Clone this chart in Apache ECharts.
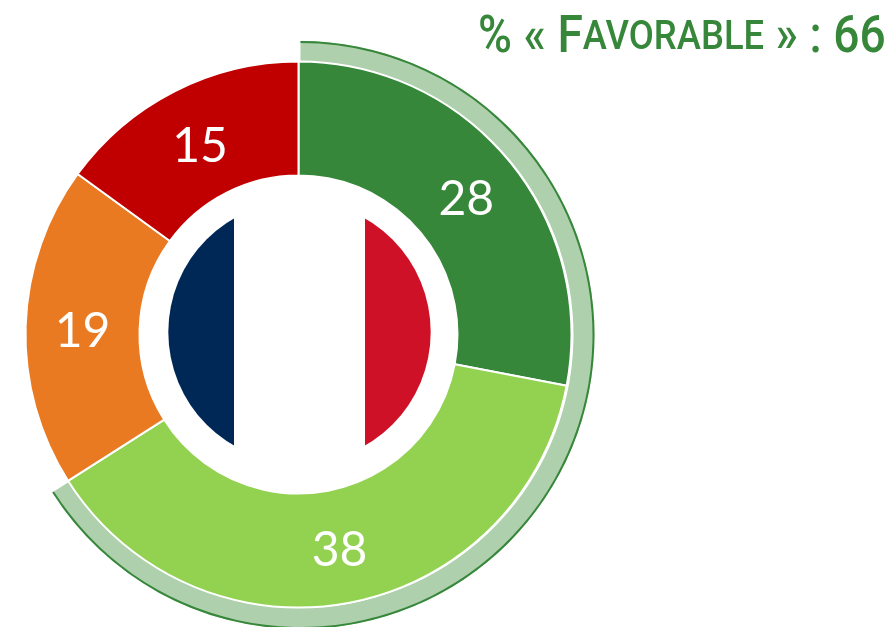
<!DOCTYPE html>
<html>
<head>
<meta charset="utf-8">
<title>% « Favorable » : 66</title>
<style>
  html, body { margin: 0; padding: 0; background: #fff; }
  #main { width: 895px; height: 627px; }
</style>
</head>
<body>
<div id="main"></div>
<script src="https://cdn.jsdelivr.net/npm/echarts@6/dist/echarts.min.js"></script>
<script>
// valeurs
const categories = ['Très favorable', 'Plutôt favorable', 'Plutôt défavorable', 'Très défavorable']
const values = [28, 38, 19, 15]
const colors = ['#36873a', '#92d250', '#e97a22', '#c00000']
const favorable = [66, 34]

const center = [298.5, 334.5]
const ringCenter = [300.5, 335]
const green = '#36873a'
// petits décalages des étiquettes pour coller à l'original
const labelOffsets = [[-1, 5], [0, 1], [3, 4], [1, 7]]

const chart = echarts.init(document.getElementById('main'), null, { renderer: 'canvas' })

chart.setOption({
  animation: false,
  graphic: [
    // titre en petites capitales, resserré pour imiter la police d'origine
    {
      type: 'text',
      x: 478,
      y: 9,
      scaleX: 0.888,
      silent: true,
      style: {
        text: '{a|% « F}{c|AVORABLE}{a| » : 66}',
        rich: {
          a: { fontFamily: 'Roboto', fontWeight: 500, fontSize: 52, fill: green, lineHeight: 60 },
          c: { fontFamily: 'Roboto', fontWeight: 500, fontSize: 41, fill: green, lineHeight: 60 }
        }
      }
    },
    // drapeau au centre : deux demi-disques et une bande blanche par-dessus
    {
      type: 'sector',
      silent: true,
      z: 10,
      shape: { cx: 299.5, cy: 332, r0: 0, r: 131.2, startAngle: Math.PI / 2, endAngle: Math.PI * 1.5 },
      style: { fill: '#002856' }
    },
    {
      type: 'sector',
      silent: true,
      z: 10,
      shape: { cx: 299.5, cy: 332, r0: 0, r: 131.2, startAngle: -Math.PI / 2, endAngle: Math.PI / 2 },
      style: { fill: '#ce1126' }
    },
    {
      type: 'rect',
      silent: true,
      z: 11,
      shape: { x: 234, y: 200, width: 131, height: 264 },
      style: { fill: '#fff' }
    }
  ],
  series: [
    // anneau du % favorable
    {
      type: 'pie',
      silent: true,
      center: ringCenter,
      radius: [273, 294],
      startAngle: 90,
      clockwise: true,
      label: { show: false },
      labelLine: { show: false },
      data: favorable.map((v, i) => ({
        value: v,
        itemStyle: { color: i === 0 ? '#aed0ad' : 'transparent' }
      }))
    },
    // liseré vert foncé
    {
      type: 'pie',
      silent: true,
      center: ringCenter,
      radius: [292, 294],
      startAngle: 90,
      clockwise: true,
      label: { show: false },
      labelLine: { show: false },
      data: favorable.map((v, i) => ({
        value: v,
        itemStyle: { color: i === 0 ? green : 'transparent' }
      }))
    },
    // donut principal
    {
      type: 'pie',
      silent: true,
      center: center,
      radius: [159, 273],
      startAngle: 90,
      clockwise: true,
      itemStyle: { borderColor: '#fff', borderWidth: 2 },
      label: {
        show: true,
        position: 'inside',
        formatter: '{c}',
        color: '#fff',
        fontFamily: 'Lato',
        fontSize: 48,
        textBorderWidth: 0
      },
      labelLine: { show: false },
      data: categories.map((name, i) => ({
        name: name,
        value: values[i],
        itemStyle: { color: colors[i] },
        label: { offset: labelOffsets[i] }
      }))
    }
  ]
})
</script>
</body>
</html>
